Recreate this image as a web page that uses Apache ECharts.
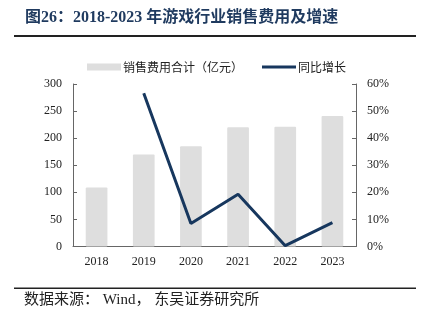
<!DOCTYPE html>
<html><head><meta charset="utf-8">
<script src="https://cdn.jsdelivr.net/npm/echarts@6/dist/echarts.min.js"></script>
<style>html,body{margin:0;padding:0;background:#fff}#c{width:421px;height:324px}</style>
</head><body><div id="c"></div>
<script>
const categories = ['2018','2019','2020','2021','2022','2023'];
const salesExpense = [109, 170, 185, 220, 221, 241];
const yoyGrowth = [null, 56.6, 8.5, 19.3, 0.3, 8.8];
const leftTicks = [0, 300, 50];
const rightTicks = [0, 60, 10];

const serif = '"Times New Roman","Liberation Serif","Noto Sans CJK SC",serif';
const chart = echarts.init(document.getElementById('c'));
chart.setOption({
  animation: false,
  textStyle: { fontFamily: serif },
  grid: { left: 73, right: 65, top: 84, bottom: 77.5 },
  legend: {
    left: 87, top: 61, padding: 0, itemGap: 19, itemWidth: 34, itemHeight: 7,
    textStyle: { fontSize: 12, color: '#222', fontFamily: '"Noto Sans CJK SC",serif', padding: [0, 0, 0, -3] },
    data: [
      { name: '销售费用合计（亿元）', icon: 'rect' },
      { name: '同比增长', icon: 'path://M0,0H34V3H0Z', itemStyle: { color: '#17375e' } }
    ]
  },
  xAxis: {
    type: 'category', data: categories,
    axisLine: { lineStyle: { color: '#666', width: 1 } },
    axisTick: { inside: true, length: 4, lineStyle: { color: '#666' } },
    axisLabel: { color: '#222', fontSize: 12, margin: 9, fontFamily: serif }
  },
  yAxis: [{
    type: 'value', min: leftTicks[0], max: leftTicks[1], interval: leftTicks[2],
    axisLine: { show: true, lineStyle: { color: '#666' } },
    axisTick: { show: true, inside: true, length: 4, lineStyle: { color: '#666' } },
    splitLine: { show: false },
    axisLabel: { color: '#222', fontSize: 12, margin: 11, fontFamily: serif }
  }, {
    type: 'value', min: rightTicks[0], max: rightTicks[1], interval: rightTicks[2],
    position: 'right',
    axisLine: { show: true, lineStyle: { color: '#666' } },
    axisTick: { show: true, inside: true, length: 4, lineStyle: { color: '#666' } },
    splitLine: { show: false },
    axisLabel: { color: '#222', fontSize: 12, margin: 11, formatter: '{value}%', fontFamily: serif }
  }],
  series: [{
    name: '销售费用合计（亿元）', type: 'bar', data: salesExpense, barWidth: '46%',
    itemStyle: { color: '#dedede', borderRadius: 1 }
  }, {
    name: '同比增长', type: 'line', yAxisIndex: 1, data: yoyGrowth,
    symbol: 'none', lineStyle: { color: '#17375e', width: 3 }, itemStyle: { color: '#17375e' }
  }],
  graphic: [
    { type: 'text', left: 25, top: 10, style: { text: '图26：2018-2023 年游戏行业销售费用及增速', fill: '#1f3a5f', font: 'bold 16px "Times New Roman","Liberation Serif","Noto Sans CJK SC",serif' } },
    { type: 'rect', shape: { x: 14, y: 35, width: 402, height: 2 }, style: { fill: '#222' } },
    { type: 'rect', shape: { x: 14, y: 287.5, width: 402, height: 1.5 }, style: { fill: '#222' } },
    { type: 'text', left: 24, top: 293, style: { text: '数据来源： Wind， 东吴证券研究所', fill: '#222', font: '15px "Times New Roman","Liberation Serif","Noto Sans CJK SC",serif' } }
  ]
});
</script></body></html>
